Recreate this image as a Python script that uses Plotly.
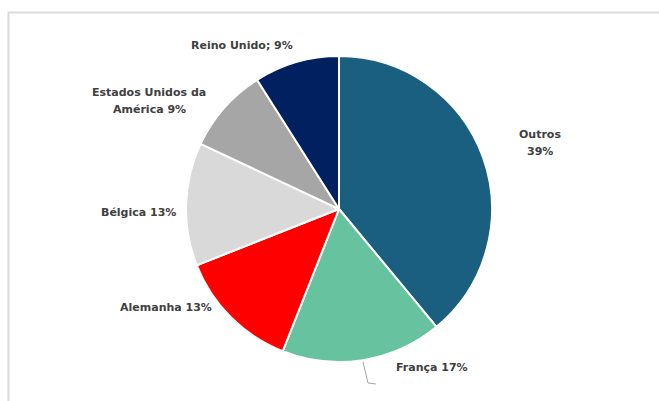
import plotly.graph_objects as go

W, H = 659, 401

countries = ["Outros", "França", "Alemanha", "Bélgica", "Estados Unidos da América", "Reino Unido"]
shares = [39, 17, 13, 13, 9, 9]
label_texts = ["Outros<br>39%", "França 17%", "Alemanha 13%", "Bélgica 13%",
               "Estados Unidos da<br>América 9%", "Reino Unido; 9%"]
colors = ["#1b5f80", "#66c29f", "#ff0000", "#d9d9d9", "#a6a6a6", "#002060"]

# label anchor positions (pixels from top-left, centre of the text block)
label_pos = [(540, 143), (432, 367), (166, 307), (138, 212), (149, 101), (242, 45)]
LINE_GAP = 17

cx, cy, r = 339, 209, 153

def px(x):
    return x / W

def py(y):
    return 1 - y / H

fig = go.Figure(go.Pie(
    labels=countries,
    values=shares,
    sort=False,
    direction="clockwise",
    rotation=0,
    marker=dict(colors=colors, line=dict(color="white", width=2)),
    textinfo="none",
    hoverinfo="label+percent",
    showlegend=False,
    domain=dict(x=[px(cx - r), px(cx + r)], y=[py(cy + r), py(cy - r)]),
))

annotations = []
for txt, (x, y) in zip(label_texts, label_pos):
    lines = txt.split("<br>")
    n = len(lines)
    for i, line in enumerate(lines):
        ly = y + (i - (n - 1) / 2) * LINE_GAP
        annotations.append(dict(
            x=px(x), y=py(ly), xref="paper", yref="paper",
            text=f"<b>{line}</b>", showarrow=False,
            xanchor="center", yanchor="middle", align="center",
            font=dict(family="DejaVu Sans, sans-serif", size=11, color="#404040"),
        ))

shapes = [
    dict(type="rect", xref="paper", yref="paper",
         x0=px(8.5), x1=px(W + 5), y0=py(H + 5), y1=py(12.5),
         line=dict(color="#dcdcdc", width=2), fillcolor="rgba(0,0,0,0)"),
    dict(type="path", xref="paper", yref="paper",
         path=f"M {px(363)} {py(362)} L {px(368)} {py(383)} L {px(376)} {py(384)}",
         line=dict(color="#a6a6a6", width=1)),
]

fig.update_layout(
    width=W, height=H,
    margin=dict(l=0, r=0, t=0, b=0),
    paper_bgcolor="white",
    plot_bgcolor="white",
    annotations=annotations,
    shapes=shapes,
)

fig.write_html("out.html", config={"displayModeBar": False},
               post_script="document.body.style.margin='0';")
